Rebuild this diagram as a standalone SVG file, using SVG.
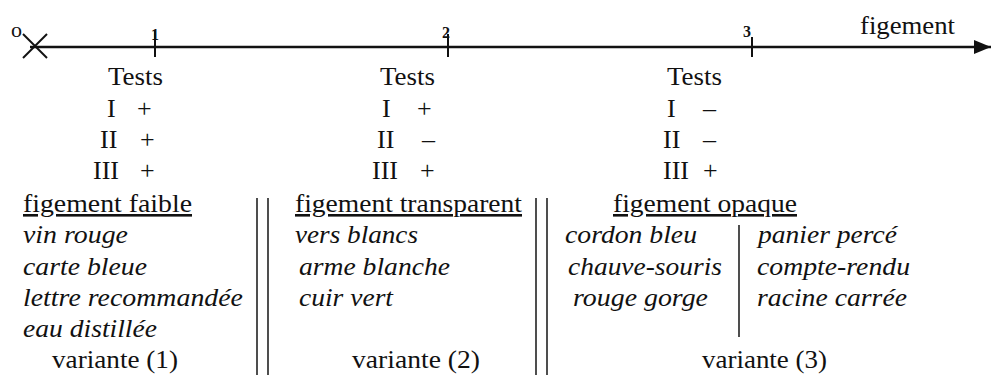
<svg xmlns="http://www.w3.org/2000/svg" width="991" height="375" viewBox="0 0 991 375" font-family="'Liberation Serif', 'DejaVu Serif', serif">
<style>
text{font-family:'Liberation Serif','DejaVu Serif',serif;fill:#111;}
.r{font-size:26px;}
.i{font-size:26px;font-style:italic;}
.u{text-decoration:underline;}
.n{font-size:16px;font-weight:bold;}
.ax{stroke:#111;stroke-width:2.5;fill:none;}
.tk{stroke:#111;stroke-width:2;fill:none;}
.sep{stroke:#222;stroke-width:1.6;fill:none;}
</style>
<defs>
<marker id="arr" markerWidth="17" markerHeight="14" refX="17" refY="7" orient="auto" markerUnits="userSpaceOnUse">
<path d="M0,0 L17,7 L0,14 z" fill="#111"/>
</marker>
</defs>
<rect width="991" height="375" fill="#fff"/>
<g id="connectors">
<line class="ax" x1="30" y1="47" x2="991" y2="47" marker-end="url(#arr)"/>
<line class="tk" x1="23" y1="34" x2="47" y2="58"/>
<line class="tk" x1="23" y1="58" x2="47" y2="34"/>
<line class="tk" x1="155" y1="30" x2="155" y2="57"/>
<line class="tk" x1="448" y1="34" x2="448" y2="57"/>
<line class="tk" x1="752" y1="37" x2="752" y2="57"/>
<line class="sep" x1="257" y1="198" x2="257" y2="375"/>
<line class="sep" x1="268" y1="198" x2="268" y2="375"/>
<line class="sep" x1="536" y1="198" x2="536" y2="375"/>
<line class="sep" x1="547" y1="198" x2="547" y2="375"/>
<line class="sep" x1="739" y1="225" x2="739" y2="337"/>
</g>
<g id="axis-labels">
<text x="11" y="37" style="font-size:22px">o</text>
<text class="n" x="155" y="40" text-anchor="middle">1</text>
<text class="n" x="446" y="38" text-anchor="middle">2</text>
<text class="n" x="747" y="37" text-anchor="middle">3</text>
<text class="r" x="860" y="34" textLength="95" lengthAdjust="spacingAndGlyphs">figement</text>
</g>
<g id="col1">
<text class="r" x="108" y="85" textLength="55" lengthAdjust="spacingAndGlyphs">Tests</text>
<text class="r" x="107" y="117">I</text><text class="r" x="137" y="117">+</text>
<text class="r" x="100" y="148">II</text><text class="r" x="140" y="148">+</text>
<text class="r" x="93" y="179">III</text><text class="r" x="140" y="179">+</text>
<text class="r u" x="23" y="212" textLength="169" lengthAdjust="spacingAndGlyphs">figement faible</text>
<text class="i" x="23" y="243" textLength="105" lengthAdjust="spacingAndGlyphs">vin rouge</text>
<text class="i" x="23" y="275" textLength="124" lengthAdjust="spacingAndGlyphs">carte bleue</text>
<text class="i" x="23" y="306" textLength="220" lengthAdjust="spacingAndGlyphs">lettre recommandée</text>
<text class="i" x="23" y="337" textLength="134" lengthAdjust="spacingAndGlyphs">eau distillée</text>
<text class="r" x="52" y="368" textLength="126" lengthAdjust="spacingAndGlyphs">variante (1)</text>
</g>
<g id="col2">
<text class="r" x="380" y="85" textLength="55" lengthAdjust="spacingAndGlyphs">Tests</text>
<text class="r" x="382" y="117">I</text><text class="r" x="417" y="117">+</text>
<text class="r" x="377" y="148">II</text><text class="r" x="422" y="148">–</text>
<text class="r" x="372" y="179">III</text><text class="r" x="420" y="179">+</text>
<text class="r u" x="295" y="212" textLength="227" lengthAdjust="spacingAndGlyphs">figement transparent</text>
<text class="i" x="295" y="243" textLength="123" lengthAdjust="spacingAndGlyphs">vers blancs</text>
<text class="i" x="299" y="275" textLength="151" lengthAdjust="spacingAndGlyphs">arme blanche</text>
<text class="i" x="299" y="306" textLength="94" lengthAdjust="spacingAndGlyphs">cuir vert</text>
<text class="r" x="352" y="368" textLength="128" lengthAdjust="spacingAndGlyphs">variante (2)</text>
</g>
<g id="col3">
<text class="r" x="667" y="85" textLength="55" lengthAdjust="spacingAndGlyphs">Tests</text>
<text class="r" x="667" y="117">I</text><text class="r" x="703" y="117">–</text>
<text class="r" x="663" y="148">II</text><text class="r" x="703" y="148">–</text>
<text class="r" x="663" y="179">III</text><text class="r" x="703" y="179">+</text>
<text class="r u" x="613" y="212" textLength="184" lengthAdjust="spacingAndGlyphs">figement opaque</text>
<text class="i" x="565" y="243" textLength="132" lengthAdjust="spacingAndGlyphs">cordon bleu</text>
<text class="i" x="568" y="275" textLength="154" lengthAdjust="spacingAndGlyphs">chauve-souris</text>
<text class="i" x="573" y="306" textLength="135" lengthAdjust="spacingAndGlyphs">rouge gorge</text>
<text class="i" x="758" y="243" textLength="139" lengthAdjust="spacingAndGlyphs">panier percé</text>
<text class="i" x="757" y="275" textLength="153" lengthAdjust="spacingAndGlyphs">compte-rendu</text>
<text class="i" x="757" y="306" textLength="150" lengthAdjust="spacingAndGlyphs">racine carrée</text>
<text class="r" x="702" y="368" textLength="125" lengthAdjust="spacingAndGlyphs">variante (3)</text>
</g>
</svg>
